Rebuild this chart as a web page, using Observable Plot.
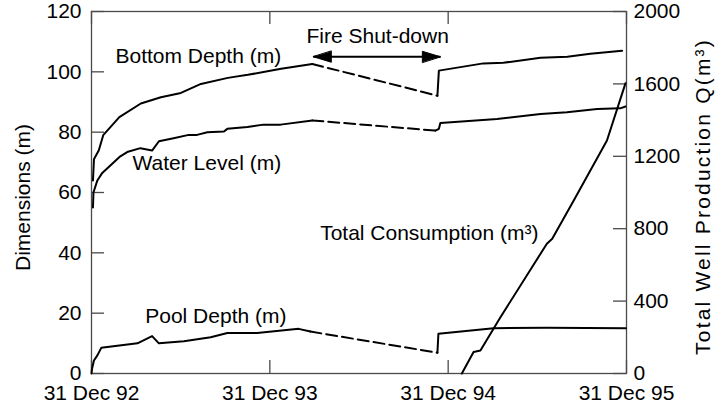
<!DOCTYPE html>
<html>
<head>
<meta charset="utf-8">
<script src="https://cdn.jsdelivr.net/npm/d3@7"></script>
<script src="https://cdn.jsdelivr.net/npm/@observablehq/plot@0.6"></script>
<style>
  html, body { margin: 0; padding: 0; background: #fff; }
  #chart { width: 715px; height: 412px; }
  #chart svg > g:last-of-type text { letter-spacing: 2.2px; }
</style>
</head>
<body>
<div id="chart"></div>
<script>
// ---- data ----
const xTickDates = ["1992-12-31", "1993-12-31", "1994-12-31", "1995-12-31"];
const xTickLabels = ["31 Dec 92", "31 Dec 93", "31 Dec 94", "31 Dec 95"];
const leftTicks = [0, 20, 40, 60, 80, 100, 120];
const rightTicks = [0, 400, 800, 1200, 1600, 2000];
const leftMax = 120;
const rightMax = 2000;

// Bottom Depth (m)
const bottomBeforeDates = ["1993-01-03","1993-01-05","1993-01-15","1993-01-24","1993-02-26","1993-04-11","1993-05-22","1993-07-02","1993-08-12","1993-10-06","1993-11-16","1994-01-23","1994-03-28"];
const bottomBeforeValues = [64, 71, 74, 79, 85, 89.5, 91.6, 93, 96, 98, 99, 101, 102.6];
const bottomAfterDates = ["1994-12-09","1994-12-12","1995-03-13","1995-04-23","1995-07-08","1995-09-01","1995-10-18","1995-12-22"];
const bottomAfterValues = [92.1, 100.4, 102.8, 103, 104.7, 105, 106, 107];

// Water Level (m)
const waterBeforeDates = ["1993-01-03","1993-01-04","1993-01-12","1993-01-22","1993-02-28","1993-03-14","1993-04-10","1993-05-04","1993-05-18","1993-06-17","1993-07-18","1993-08-04","1993-08-25","1993-09-28","1993-10-05","1993-11-15","1993-12-18","1994-01-22","1994-03-28"];
const waterBeforeValues = [55, 60, 64, 66.5, 72, 73.4, 74.7, 73.9, 77, 78, 79.1, 79.1, 80, 80.2, 81.1, 81.7, 82.5, 82.5, 83.9];
const waterAfterDates = ["1994-12-05","1994-12-12","1994-12-15","1995-04-10","1995-07-08","1995-08-31","1995-11-01","1995-12-18","1995-12-29"];
const waterAfterValues = [80.5, 81.1, 83, 84.4, 86, 86.6, 87.7, 87.9, 88.5];

// Pool Depth (m)
const poolBeforeDates = ["1992-12-31","1993-01-01","1993-01-05","1993-01-12","1993-01-20","1993-04-04","1993-05-04","1993-05-18","1993-07-08","1993-09-01","1993-10-05","1993-12-05","1994-02-28","1994-03-24"];
const poolBeforeValues = [0, 1.5, 4.3, 6, 8.5, 10, 12.4, 10, 10.7, 12, 13.4, 13.4, 14.8, 13.9];
const poolAfterDates = ["1994-12-09","1994-12-11","1995-04-03","1995-07-21","1995-12-30"];
const poolAfterValues = [6.9, 13.2, 15, 15.2, 15];

// Total Consumption (m3), right axis
const consumptionDates = ["1995-01-28","1995-02-21","1995-03-07","1995-04-17","1995-07-21","1995-08-01","1995-09-14","1995-11-21","1995-12-29"];
const consumptionValues = [0, 119, 127, 311, 717, 744, 956, 1287, 1604];

// Fire shut-down arrow
const fireStart = "1994-03-30";
const fireEnd = "1994-12-15";
const fireLevel = 105;

// Annotations
const labelTexts = ["Bottom Depth (m)", "Water Level (m)", "Pool Depth (m)", "Total Consumption (m\u00B3)", "Fire Shut-down"];
const labelDates = ["1993-02-18", "1993-03-25", "1993-04-20", "1994-04-13", "1994-03-16"];
const labelValues = [105.2, 69.8, 19.0, 46.6, 111.9];

const leftTitle = "Dimensions (m)";
const rightTitle = "Total Well Production Q(m\u00B3)";

// ---- build ----
const W = 715, H = 412;
const mL = 91, mR = 89, mT = 11, mB = 39;
const frameW = W - mL - mR, frameH = H - mT - mB;
const tickLen = 13;

const D = s => new Date(s + "T00:00:00Z");
const k = leftMax / rightMax;
const zip = (ds, vs) => ds.map((d, i) => ({date: D(d), value: vs[i]}));

const bottomBefore = zip(bottomBeforeDates, bottomBeforeValues);
const bottomAfter = zip(bottomAfterDates, bottomAfterValues);
const waterBefore = zip(waterBeforeDates, waterBeforeValues);
const waterAfter = zip(waterAfterDates, waterAfterValues);
const poolBefore = zip(poolBeforeDates, poolBeforeValues);
const poolAfter = zip(poolAfterDates, poolAfterValues);
const consumption = zip(consumptionDates, consumptionValues).map(d => ({date: d.date, value: d.value * k}));

const gaps = [
  [bottomBefore.at(-1), bottomAfter[0]],
  [waterBefore.at(-1), waterAfter[0]],
  [poolBefore.at(-1), poolAfter[0]]
];

const labels = labelTexts.map((t, i) => ({text: t, date: D(labelDates[i]), value: labelValues[i]}));
const xTicks = xTickDates.map(D);
const rightTickPos = rightTicks.map(v => v * k);
const fireLine = [{start: D(fireStart), end: D(fireEnd), level: fireLevel}];
const fireHeads = [{date: D(fireStart), level: fireLevel, rot: -90}, {date: D(fireEnd), level: fireLevel, rot: 90}];

const headShape = {draw(c, l) { c.moveTo(0, 0); c.lineTo(-5.5, l); c.lineTo(5.5, l); c.closePath(); }};

const axisColor = "#4a4a4a";
const tickStroke = {stroke: axisColor, strokeWidth: 1.3};
const lineStyle = {x: "date", y: "value", stroke: "black", strokeWidth: 2, curve: "linear"};
const dashStyle = {x: "date", y: "value", stroke: "black", strokeWidth: 2, strokeDasharray: "11,5"};

const chart = Plot.plot({
  width: W,
  height: H,
  marginLeft: mL,
  marginRight: mR,
  marginTop: mT,
  marginBottom: mB,
  style: {fontFamily: "'Liberation Sans', Arial, sans-serif", fontSize: "21px", background: "white", color: "black"},
  x: {type: "utc", domain: [xTicks[0], xTicks[xTicks.length - 1]]},
  y: {domain: [0, leftMax]},
  marks: [
    Plot.frame({stroke: axisColor, strokeWidth: 1.3}),
    // tick labels
    Plot.axisY(leftTicks, {anchor: "left", tickSize: 0, tickPadding: 10, label: null}),
    Plot.axisY(rightTickPos, {anchor: "right", tickSize: 0, tickPadding: 7, label: null,
      tickFormat: d => String(Math.round(d / k))}),
    Plot.axisX(xTicks, {anchor: "bottom", tickSize: 0, tickPadding: 12, label: null,
      tickFormat: d => xTickLabels[xTicks.findIndex(t => +t === +d)]}),
    // inward tick marks
    Plot.tickY(leftTicks, {y: d => d, insetRight: frameW - tickLen, ...tickStroke}),
    Plot.tickY(rightTickPos, {y: d => d, insetLeft: frameW - tickLen, ...tickStroke}),
    Plot.tickX(xTicks, {x: d => d, insetTop: frameH - tickLen, ...tickStroke}),
    Plot.tickX(xTicks, {x: d => d, insetBottom: frameH - tickLen, ...tickStroke}),
    // data
    Plot.line(bottomBefore, lineStyle),
    Plot.line(bottomAfter, lineStyle),
    Plot.line(waterBefore, lineStyle),
    Plot.line(waterAfter, lineStyle),
    Plot.line(poolBefore, lineStyle),
    Plot.line(poolAfter, lineStyle),
    ...gaps.map(g => Plot.line(g, dashStyle)),
    Plot.line(consumption, lineStyle),
    // fire shut-down arrow
    Plot.link(fireLine, {x1: "start", x2: "end", y1: "level", y2: "level", stroke: "black", strokeWidth: 2}),
    Plot.vector(fireHeads, {x: "date", y: "level", rotate: "rot", length: 18, anchor: "start", shape: headShape, fill: "black", stroke: "black", strokeWidth: 1}),
    // annotations
    Plot.text(labels, {x: "date", y: "value", text: "text", textAnchor: "start", fill: "black"}),
    Plot.text([leftTitle], {frameAnchor: "left", dx: -68, dy: 5, rotate: -90, textAnchor: "middle", text: d => d, fill: "black"}),
    Plot.text([rightTitle], {frameAnchor: "right", dx: 77, dy: 4, rotate: -90, textAnchor: "middle", text: d => d, fill: "black"})
  ]
});
document.getElementById("chart").appendChild(chart);
</script>
</body>
</html>
